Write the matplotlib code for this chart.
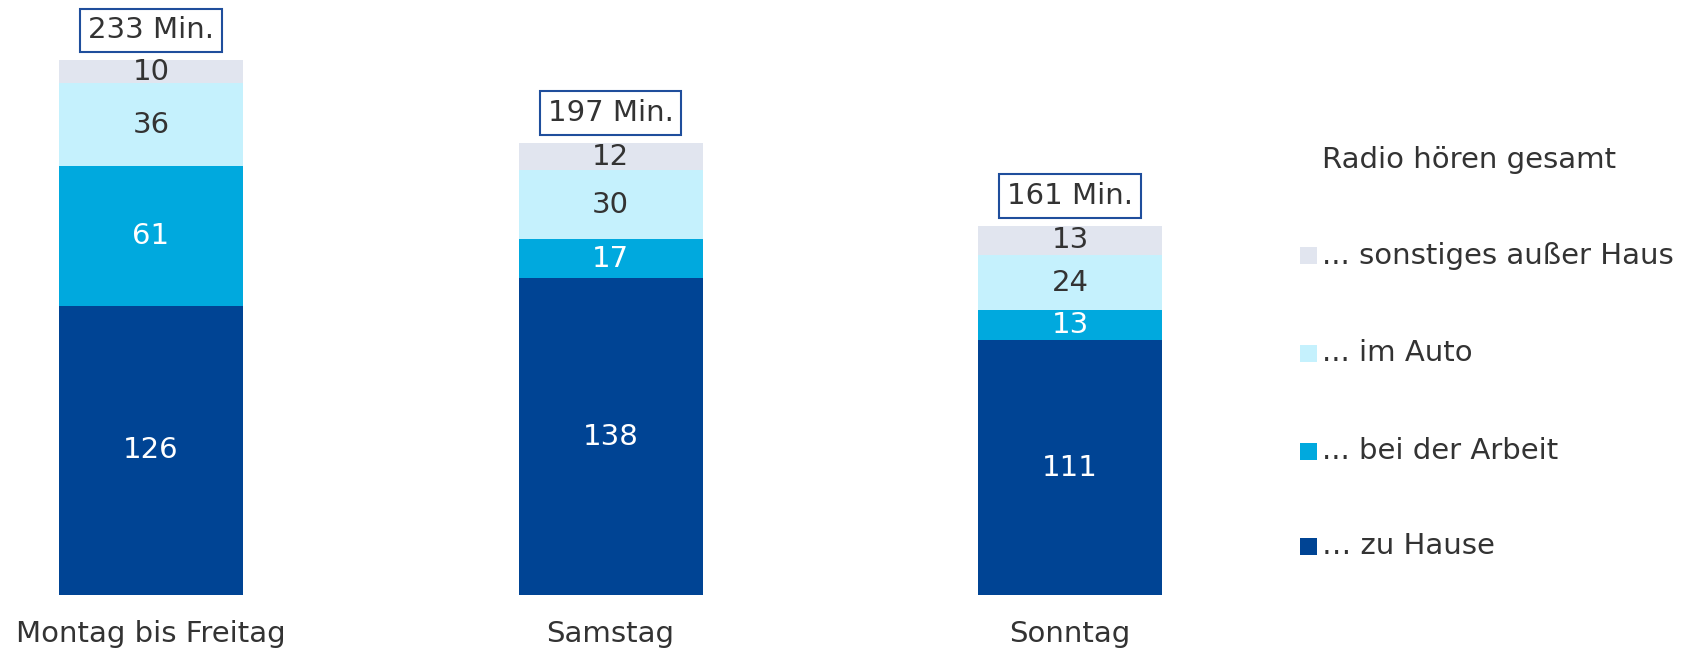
import matplotlib
matplotlib.use("Agg")
import matplotlib.pyplot as plt
from matplotlib.patches import Rectangle

categories = ["Montag bis Freitag", "Samstag", "Sonntag"]
series_names = ["… zu Hause", "... bei der Arbeit", "... im Auto", "... sonstiges außer Haus"]
zu_hause = [126, 138, 111]
bei_arbeit = [61, 17, 13]
im_auto = [36, 30, 24]
sonstiges = [10, 12, 13]
totals = [233, 197, 161]
legend_title = "Radio hören gesamt"

series = [zu_hause, bei_arbeit, im_auto, sonstiges]
colors = ["#004494", "#00a9de", "#c5f1fd", "#e1e5ef"]
text_colors = ["white", "white", "#333333", "#333333"]
box_edge = "#1f4e9c"
txt = "#333333"
FS = 21

W, H = 1687, 651
fig = plt.figure(figsize=(W / 100, H / 100), dpi=100)
ax = fig.add_axes([0, 0, 1, 1])
ax.set_axis_off()

px_per_unit = 459.5
px_per_min = 2.295
x0_px = 151
bottom_px = 56
ax.set_xlim(-x0_px / px_per_unit, (W - x0_px) / px_per_unit)
ax.set_ylim(-bottom_px / px_per_min, (H - bottom_px) / px_per_min)

xs = list(range(len(categories)))
bw = 184 / px_per_unit
bottoms = [0] * len(categories)
for vals, col, tc in zip(series, colors, text_colors):
    ax.bar(xs, vals, bottom=bottoms, width=bw, color=col, edgecolor="none")
    for x, v, b in zip(xs, vals, bottoms):
        ax.text(x, b + v / 2, str(v), ha="center", va="center", color=tc, fontsize=FS)
    bottoms = [b + v for b, v in zip(bottoms, vals)]

for x, t, top in zip(xs, totals, bottoms):
    ax.annotate(f"{t} Min.", (x, top), xytext=(0, 21.5), textcoords="offset points",
                ha="center", va="center", fontsize=FS, color=txt,
                bbox=dict(boxstyle="square,pad=0.27", fc="white", ec=box_edge, lw=1.5))

for x, c in zip(xs, categories):
    ax.annotate(c, (x, 0), xytext=(0, -28), textcoords="offset points",
                ha="center", va="center", fontsize=FS, color=txt)

# legend
fig.text(1322 / W, 1 - 160 / H, legend_title, ha="left", va="center", fontsize=FS, color=txt)
leg_y = [546, 451, 353, 256]
for name, col, y in zip(series_names, colors, leg_y):
    fig.patches.append(Rectangle((1300 / W, 1 - (y + 8.5) / H), 17 / W, 17 / H,
                                 transform=fig.transFigure, fc=col, ec="none"))
    fig.text(1322 / W, 1 - y / H, name, ha="left", va="center", fontsize=FS, color=txt)

fig.savefig("out.png", dpi=100)
